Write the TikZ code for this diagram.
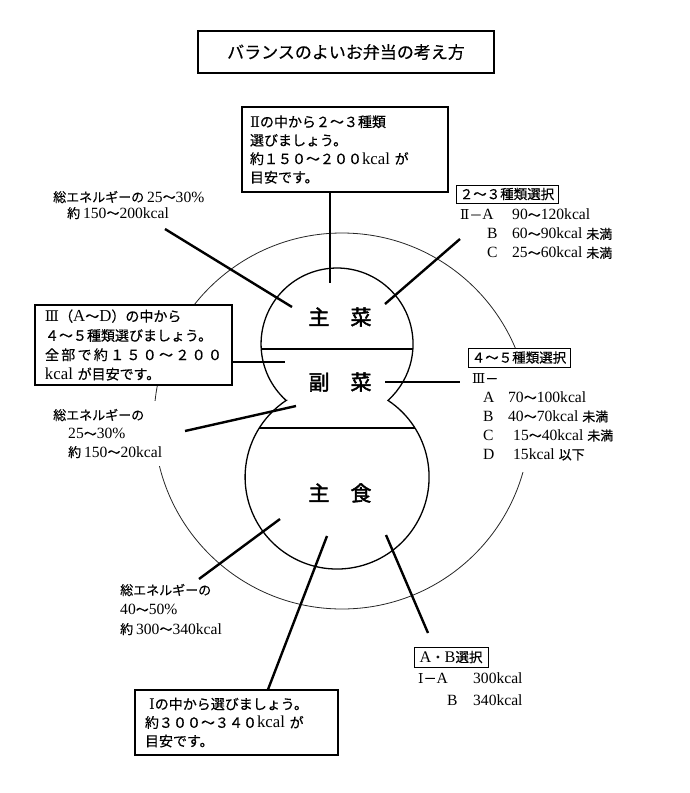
\documentclass[tikz,border=0pt]{standalone}
\usepackage{fontspec}
\setmainfont[FakeBold=0.4]{Noto Sans CJK JP}
\newfontfamily\jpb[FakeBold=2]{Noto Sans CJK JP}
\newfontfamily\latf[Scale=1.2]{Liberation Serif}
\newfontfamily\romf[Scale=1.05]{DejaVu Serif}
\newcommand\lat[1]{{\latf #1}}
\newcommand\rmn[1]{{\romf #1}}
\begin{document}
\begin{tikzpicture}[x=1pt,y=1pt,
  thickline/.style={line width=2.4pt},
  boxnode/.style={draw, line width=1.1pt, fill=white, align=left, inner ysep=0pt},
  lbl/.style={align=left, inner sep=0pt, anchor=west},
  hdr/.style={draw, line width=1pt, fill=white, inner sep=1pt, font=\fontsize{13.5}{16}\selectfont},
  gourdtxt/.style={font=\jpb\fontsize{21}{24}\selectfont}]
\useasboundingbox (0,0) rectangle (690,-793);

% outer circle
\draw[line width=0.8pt, black!85] (342,-421) circle[radius=188];

% gourd shape
\coordinate (gL) at (286.1,-400.4);
\draw[line width=1.3pt] (gL) arc[start angle=227.9, end angle=-47.9, radius=76]
  arc[start angle=56.4, end angle=-236.4, radius=92] -- cycle;
\draw[line width=1.2pt] (261.2,-349) -- (412.8,-349);
\draw[line width=1.2pt] (259.1,-428) -- (414.9,-428);

\node[gourdtxt] (shusai) at (340,-317) {主　菜};
\node[gourdtxt] (fukusai) at (340,-382) {副　菜};
\node[gourdtxt] (shushoku) at (340,-493) {主　食};

% title
\node[draw, line width=1.4pt, minimum width=296pt, minimum height=42pt,
  font=\fontsize{17}{20}\selectfont] (title) at (346,-52) {バランスのよいお弁当の考え方};

% boxes
\node[boxnode, text width=190pt, inner xsep=8pt, minimum height=85pt,
  font=\fontsize{14}{18.5}\selectfont] (topbox) at (345,-149.5)
  {\rmn{Ⅱ}の中から２～３種類\\選びましょう。\\約１５０～２００\lat{kcal }が\\目安です。};

\node[boxnode, text width=177pt, inner xsep=10pt, minimum height=80pt,
  font=\fontsize{14}{19.3}\selectfont] (leftbox) at (133.5,-345)
  {\rmn{Ⅲ}（\lat{A}～\lat{D}）の中から\\４～５種類選びましょう。\\\makebox[177pt][s]{全\hfil 部\hfil で\hfil 約\hfil １\hfil ５\hfil ０\hfil ～\hfil ２\hfil ０\hfil ０}\\\lat{kcal }が目安です。};

\node[boxnode, text width=183pt, inner xsep=10pt, minimum height=65pt,
  font=\fontsize{14}{18.5}\selectfont] (botbox) at (236.5,-722.5)
  {\hspace*{4pt}\rmn{Ⅰ}の中から選びましょう。\\約３００～３４０\lat{kcal }が\\目安です。};

% labels
\node[lbl, font=\fontsize{13}{16}\selectfont] (lblTL) at (53,-205)
  {総エネルギーの \lat{25}～\lat{30\%}\\\hspace*{14pt}約 \lat{150}～\lat{200kcal}};

\node[lbl, font=\fontsize{13}{19}\selectfont] (lstTR) at (460,-234)
  {\makebox[52pt][l]{\rmn{Ⅱ}－\lat{A}}\lat{90}～\lat{120kcal}\\
   \hspace*{27pt}\makebox[25pt][l]{\lat{B}}\lat{60}～\lat{90kcal }未満\\
   \hspace*{27pt}\makebox[25pt][l]{\lat{C}}\lat{25}～\lat{60kcal }未満};
\node[hdr, minimum width=102pt, minimum height=18pt] (hdr23) at (507,-194) {２～３種類選択};

\node[lbl, fill=white, inner ysep=8pt, inner xsep=12pt, font=\fontsize{13}{18.5}\selectfont] (lblML) at (41,-433.5)
  {総エネルギーの\\\hspace*{15pt}\lat{25}～\lat{30\%}\\\hspace*{15pt}約 \lat{150}～\lat{20kcal}};

\node[lbl, fill=white, inner ysep=11pt, inner xsep=0pt, font=\fontsize{13}{19}\selectfont] (lstMR) at (472,-417)
  {\rmn{Ⅲ}－\\
   \hspace*{11pt}\makebox[25pt][l]{\lat{A}}\lat{70}～\lat{100kcal}\\
   \hspace*{11pt}\makebox[25pt][l]{\lat{B}}\lat{40}～\lat{70kcal }未満\\
   \hspace*{11pt}\makebox[30pt][l]{\lat{C}}\lat{15}～\lat{40kcal }未満\\
   \hspace*{11pt}\makebox[30pt][l]{\lat{D}}\lat{15kcal }以下};
\node[hdr, minimum width=102pt, minimum height=19pt] (hdr45) at (519,-357.5) {４～５種類選択};

\node[lbl, font=\fontsize{13}{19.5}\selectfont] (lblBL) at (120,-609.5)
  {総エネルギーの\\\lat{40}～\lat{50\%}\\約 \lat{300}～\lat{340kcal}};

\node[hdr, minimum width=74pt, minimum height=20pt] (hdrab) at (451,-657) {\lat{A}・\lat{B}選択};
\node[lbl, font=\fontsize{13}{22}\selectfont] (lstBR) at (418,-689)
  {\makebox[55pt][l]{\rmn{Ⅰ}－\lat{A}}\lat{300kcal}\\\hspace*{29pt}\makebox[26pt][l]{\lat{B}}\lat{340kcal}};

% connector end points
\coordinate (pTop) at (330,-283);
\coordinate (pTLa) at (165,-229); \coordinate (pTLb) at (292,-307);
\coordinate (pTRa) at (460,-239); \coordinate (pTRb) at (385,-304);
\coordinate (pLB) at (285,-362);
\coordinate (pMRa) at (385,-382); \coordinate (pMRb) at (460,-382);
\coordinate (pMLa) at (185,-431); \coordinate (pMLb) at (296,-406);
\coordinate (pBLa) at (199,-579); \coordinate (pBLb) at (280,-519);
\coordinate (pBa) at (268,-690); \coordinate (pBb) at (327,-536);
\coordinate (pBRa) at (386,-535); \coordinate (pBRb) at (428,-633);

% connectors
\draw[thickline] (topbox.south -| pTop) -- (pTop);
\draw[thickline] (pTLa) -- (pTLb);
\draw[thickline] (pTRa) -- (pTRb);
\draw[thickline] (leftbox.east |- pLB) -- (pLB);
\draw[thickline] (pMRa) -- (pMRb);
\draw[thickline] (pMLa) -- (pMLb);
\draw[thickline] (pBLa) -- (pBLb);
\draw[thickline] (botbox.north -| pBa) -- (pBb);
\draw[thickline] (pBRa) -- (pBRb);
\end{tikzpicture}
\end{document}
